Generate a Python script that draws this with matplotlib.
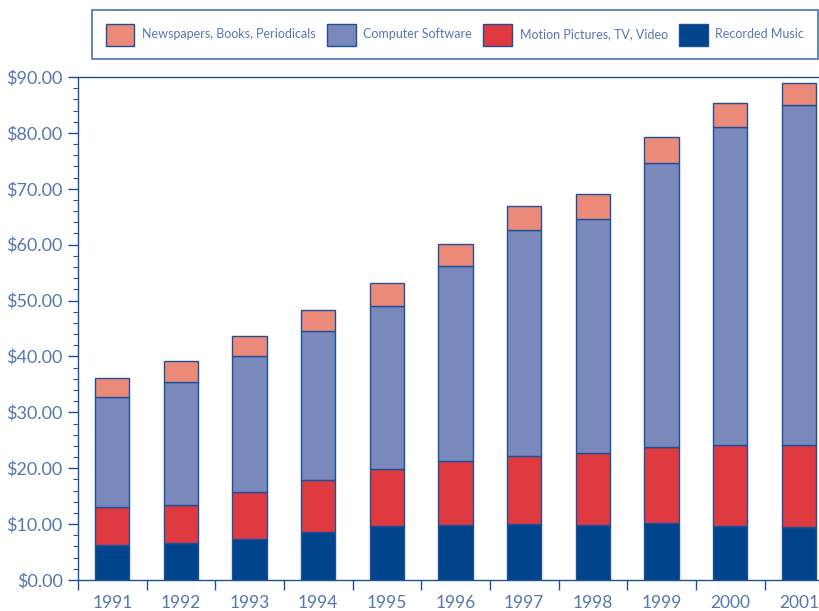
import matplotlib
matplotlib.use("Agg")
import matplotlib.pyplot as plt
import numpy as np
from matplotlib.ticker import MultipleLocator, FixedLocator, FuncFormatter

plt.rcParams['font.family'] = ['Lato', 'DejaVu Sans']

years = ["1991", "1992", "1993", "1994", "1995", "1996",
         "1997", "1998", "1999", "2000", "2001"]

# billions of dollars per industry
music = [6.2, 6.6, 7.4, 8.65, 9.7, 9.8, 10.0, 9.85, 10.2, 9.7, 9.45]
motion = [6.9, 6.9, 8.3, 9.3, 10.2, 11.5, 12.2, 12.85, 13.6, 14.5, 14.65]
software = [19.7, 21.9, 24.4, 26.55, 29.1, 34.8, 40.4, 41.95, 50.8, 56.9, 60.85]
print_media = [3.3, 3.7, 3.6, 3.75, 4.1, 4.0, 4.3, 4.45, 4.7, 4.3, 3.9]

names = ["Recorded Music", "Motion Pictures, TV, Video",
         "Computer Software", "Newspapers, Books, Periodicals"]
colors = ["#00448C", "#DF3A40", "#7A89BB", "#EC8A79"]
edge = "#1F4F98"
text_col = "#5677AD"

fig = plt.figure(figsize=(8.2, 6.11), dpi=100)
ax = fig.add_axes([78 / 820, 31 / 611, 742 / 820, 503 / 611])

x = np.arange(len(years))
bottom = np.zeros(len(years))
handles = []
for vals, name, c in zip([music, motion, software, print_media], names, colors):
    b = ax.bar(x, vals, width=0.5, bottom=bottom, color=c, edgecolor=edge,
               linewidth=1.0, label=name)
    handles.append(b)
    bottom += np.array(vals)

ax.set_ylim(0, 90)
ax.set_xlim(-0.5, -0.5 + 742 / 68.65)

for s in ["top", "left", "bottom"]:
    ax.spines[s].set_color(edge)
    ax.spines[s].set_linewidth(1.0)
ax.spines["right"].set_visible(False)

# tick sizes below are in points (1 px = 0.72 pt here)
ax.yaxis.set_major_locator(MultipleLocator(10))
ax.yaxis.set_minor_locator(MultipleLocator(2))
ax.yaxis.set_major_formatter(FuncFormatter(lambda v, p: f"${v:.2f}"))
ax.tick_params(axis="y", which="major", length=7.2, width=1.0, color=edge,
               labelcolor=text_col, labelsize=13, pad=4)
ax.tick_params(axis="y", which="minor", length=3.8, width=0.8, color=edge)

ax.set_xticks(x)
ax.set_xticklabels(years)
ax.xaxis.set_minor_locator(FixedLocator(np.arange(-0.5, len(years), 1.0)))
ax.tick_params(axis="x", which="major", length=0, labelcolor=text_col,
               labelsize=12.5, pad=10.5)
ax.tick_params(axis="x", which="minor", length=7.2, width=1.0, color=edge)

# legend box stretched across the top, from x=92 to x=818 px
leg = fig.legend(handles[::-1], names[::-1], loc="upper left",
                 bbox_to_anchor=(92 / 820, 1 - 62 / 611, 726 / 820, 52 / 611),
                 mode="expand", ncol=4, fontsize=9.0, frameon=True,
                 fancybox=False, handlelength=2.3, handleheight=2.3,
                 handletextpad=0.6, columnspacing=1.0, borderpad=1.1,
                 borderaxespad=0)
leg.get_frame().set_edgecolor(edge)
leg.get_frame().set_linewidth(1.2)
for t in leg.get_texts():
    t.set_color(text_col)

fig.savefig("out.png", dpi=100)
